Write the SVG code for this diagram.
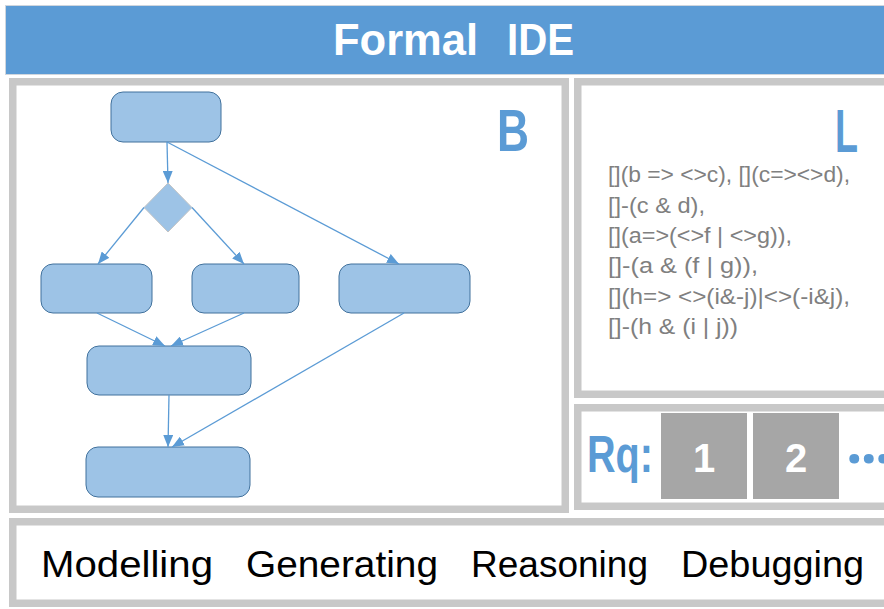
<svg xmlns="http://www.w3.org/2000/svg" width="884" height="609" viewBox="0 0 884 609">
  <style>
    .panel { fill: #ffffff; stroke: #c8c8c8; stroke-width: 7.5; }
    .node { fill: #9dc3e6; stroke: #41719c; stroke-width: 1; }
    .decision { fill: #9dc3e6; stroke: #c4c4c4; stroke-width: 1; }
    .edge { fill: none; stroke: #5b9bd5; stroke-width: 1.3; marker-end: url(#arrow); }
    .title { font-family: "Liberation Sans", Arial, sans-serif; font-weight: bold; font-size: 45px; fill: #ffffff; }
    .big { font-family: "Liberation Sans", Arial, sans-serif; font-weight: bold; fill: #5b9bd5; }
    .ltl { font-family: "Liberation Sans", Arial, sans-serif; font-size: 22px; fill: #808080; }
    .req { fill: #a6a6a6; }
    .reqnum { font-family: "Liberation Sans", Arial, sans-serif; font-weight: bold; font-size: 40px; fill: #ffffff; text-anchor: middle; }
    .tool { font-family: "Liberation Sans", Arial, sans-serif; font-size: 36px; fill: #000000; }
  </style>
  <defs>
    <marker id="arrow" markerUnits="userSpaceOnUse" markerWidth="12" markerHeight="10" refX="12" refY="5" orient="auto">
      <path d="M0,0 L12,5 L0,10 Z" fill="#5b9bd5"/>
    </marker>
  </defs>

  <rect width="884" height="609" fill="#ffffff"/>

  <!-- title bar -->
  <g id="header">
    <rect x="5.5" y="5.5" width="890" height="69" fill="#5b9bd5" stroke="#cfd6de" stroke-width="1"/>
    <text class="title" y="55"><tspan x="333" textLength="145" lengthAdjust="spacingAndGlyphs">Formal</tspan><tspan x="507" textLength="67" lengthAdjust="spacingAndGlyphs">IDE</tspan></text>
  </g>

  <!-- behaviour model panel -->
  <g id="panel-b">
    <rect class="panel" x="12.75" y="81.75" width="552.5" height="427.5"/>
    <text class="big" x="497" y="151" font-size="60" textLength="32" lengthAdjust="spacingAndGlyphs">B</text>
  </g>

  <!-- logic panel -->
  <g id="panel-l">
    <rect class="panel" x="577.75" y="81.75" width="330" height="312.5"/>
    <text class="big" x="835" y="152" font-size="61" textLength="23" lengthAdjust="spacingAndGlyphs">L</text>
    <text class="ltl" x="608" y="182" textLength="242" lengthAdjust="spacingAndGlyphs">[](b =&gt; &lt;&gt;c), [](c=&gt;&lt;&gt;d),</text>
    <text class="ltl" x="608" y="212.5" textLength="97" lengthAdjust="spacingAndGlyphs">[]-(c &amp; d),</text>
    <text class="ltl" x="608" y="243" textLength="184" lengthAdjust="spacingAndGlyphs">[](a=&gt;(&lt;&gt;f | &lt;&gt;g)),</text>
    <text class="ltl" x="608" y="273" textLength="150" lengthAdjust="spacingAndGlyphs">[]-(a &amp; (f | g)),</text>
    <text class="ltl" x="608" y="303.5" textLength="242" lengthAdjust="spacingAndGlyphs">[](h=&gt; &lt;&gt;(i&amp;-j)|&lt;&gt;(-i&amp;j),</text>
    <text class="ltl" x="608" y="334" textLength="130" lengthAdjust="spacingAndGlyphs">[]-(h &amp; (i | j))</text>
  </g>

  <!-- requirements panel -->
  <g id="panel-rq">
    <rect class="panel" x="577.75" y="407.75" width="330" height="98.5"/>
    <text class="big" x="587" y="472" font-size="52" textLength="66" lengthAdjust="spacingAndGlyphs">Rq:</text>
    <rect class="req" x="661" y="413" width="86" height="86"/>
    <text class="reqnum" x="704" y="472">1</text>
    <rect class="req" x="753" y="413" width="86" height="86"/>
    <text class="reqnum" x="796" y="472">2</text>
    <text x="846" y="463" font-family="'Open Sans', 'DejaVu Sans', sans-serif" font-weight="bold" font-size="58" letter-spacing="-2" fill="#5b9bd5">...</text>
  </g>

  <!-- tool capabilities panel -->
  <g id="panel-tools">
    <rect class="panel" x="12.75" y="521.75" width="890" height="81.5"/>
    <text class="tool" x="41" y="577" textLength="172" lengthAdjust="spacingAndGlyphs">Modelling</text>
    <text class="tool" x="246" y="577" textLength="192" lengthAdjust="spacingAndGlyphs">Generating</text>
    <text class="tool" x="471" y="577" textLength="177" lengthAdjust="spacingAndGlyphs">Reasoning</text>
    <text class="tool" x="681" y="577" textLength="183" lengthAdjust="spacingAndGlyphs">Debugging</text>
  </g>

  <!-- flowchart nodes -->
  <g id="n-start"><rect class="node" x="111" y="92" width="110" height="50" rx="12"/></g>
  <g id="n-choice"><path class="decision" d="M168,183 L192,207.5 L168,232 L144,207.5 Z"/></g>
  <g id="n-left"><rect class="node" x="41" y="264" width="111" height="49" rx="12"/></g>
  <g id="n-mid"><rect class="node" x="192" y="264" width="107" height="49" rx="12"/></g>
  <g id="n-right"><rect class="node" x="339" y="264" width="131" height="49" rx="12"/></g>
  <g id="n-join"><rect class="node" x="87" y="346" width="164" height="49" rx="12"/></g>
  <g id="n-end"><rect class="node" x="86" y="447" width="164" height="50" rx="12"/></g>

  <!-- flowchart connectors -->
  <g id="connectors">
    <line class="edge" x1="167" y1="142" x2="168" y2="183"/>
    <line class="edge" x1="167" y1="142" x2="399" y2="264"/>
    <line class="edge" x1="144" y1="207.5" x2="98" y2="264"/>
    <line class="edge" x1="192" y1="207.5" x2="244" y2="264"/>
    <line class="edge" x1="97" y1="313" x2="165" y2="346"/>
    <line class="edge" x1="244" y1="313" x2="171" y2="346"/>
    <line class="edge" x1="169" y1="395" x2="168" y2="447"/>
    <line class="edge" x1="404" y1="313" x2="172" y2="447"/>
  </g>
</svg>
